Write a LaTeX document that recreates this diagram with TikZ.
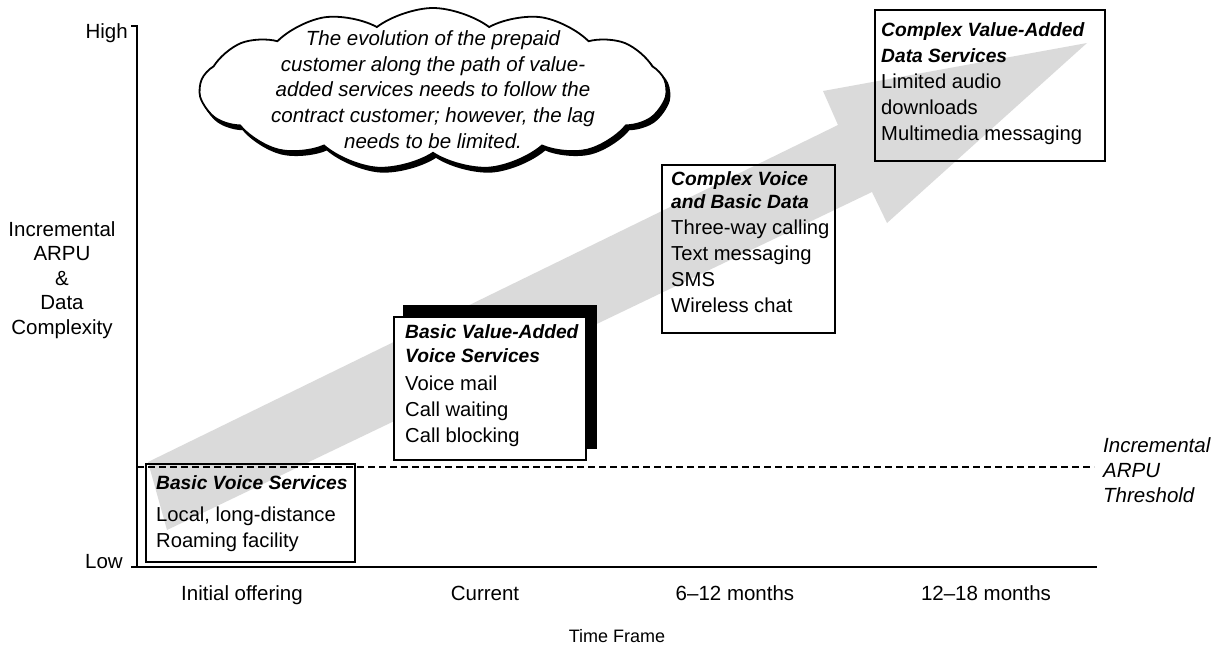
\documentclass[tikz,border=0pt]{standalone}
\usepackage{fontspec}
\setmainfont{Liberation Sans}
\usetikzlibrary{shapes.symbols}
\definecolor{arrowgray}{RGB}{218,218,218}
\begin{document}
\begin{tikzpicture}[x=1pt,y=-1pt,
  svcbox/.style={draw=black,line width=2pt,anchor=north west,inner sep=0pt},
  boxtext/.style={anchor=north west,inner sep=0pt,align=left,font=\fontsize{20.2}{26}\selectfont},
  axis/.style={line width=1.6pt},
  threshold/.style={line width=1.5pt,dash pattern=on 7pt off 4pt},
  axislabel/.style={inner sep=0pt,font=\fontsize{20.5}{24.5}\selectfont,text height=15pt,text depth=4.5pt},
  multilabel/.style={inner sep=0pt,align=center,font=\fontsize{20.5}{24.5}\selectfont},
  cloudshape/.style={cloud,cloud puffs=13,cloud puff arc=75,cloud ignores aspect,
    minimum width=466pt,minimum height=162pt,draw=black,line width=1.8pt,inner sep=0pt},
  cloudtext/.style={inner sep=0pt,align=center,font=\fontsize{20.5}{25.7}\selectfont\itshape}
]
\newcommand{\bt}[1]{{\fontsize{19.2}{26}\selectfont\bfseries\itshape #1}}
\useasboundingbox (0,0) rectangle (1217,647);

% big gray arrow
\fill[arrowgray] (148,462) -- (838,125) -- (823,91) -- (1087,43) -- (887,223) -- (872,192) -- (167,530) -- cycle;

% threshold
\coordinate (thl) at (137,467);
\coordinate (thr) at (1094,467);
\draw[threshold] (thl) -- (thr);

% axes
\coordinate (ytick) at (131,26);
\coordinate (ytop) at (137,26);
\coordinate (origin) at (137,567);
\coordinate (xleft) at (131,567);
\coordinate (xright) at (1097,567);
\draw[axis] (ytick) -- (ytop) -- (origin);
\draw[axis] (xleft) -- (xright);

% axis labels
\node[axislabel,anchor=east] (high) at (128,33) {High};
\node[axislabel,anchor=east] (low) at (123,563) {Low};
\node[multilabel] (ylabel) at (62,280) {Incremental\\ARPU\\\&\\Data\\Complexity};
\node[axislabel] (t1) at (242,595) {Initial offering};
\node[axislabel] (t2) at (485,595) {Current};
\node[axislabel] (t3) at (735,595) {6–12 months};
\node[axislabel] (t4) at (986,595) {12–18 months};
\node[inner sep=0pt,font=\fontsize{18}{22}\selectfont,text height=13.5pt,text depth=3.8pt] (xlabel) at (617,638) {Time Frame};
\node[multilabel,align=left,anchor=west,font=\fontsize{20.5}{25}\selectfont\itshape] (thlabel) at (1103,470) {Incremental\\ARPU\\Threshold};

% cloud
\node[cloudshape,fill=black] (cloudshadow) at (436,93) {};
\node[cloudshape,fill=white] (cloud) at (433,89) {};
\node[cloudtext] (cloudtxt) at (433,89.4) {The evolution of the prepaid\\customer along the path of value-\\added services needs to follow the\\contract customer; however, the lag\\needs to be limited.};

% box 1
\node[svcbox,minimum width=209pt,minimum height=98pt] (box1) at (145,463) {};
\node[boxtext] (box1txt) at (156,471.3) {\strut\bt{Basic Voice Services}\\[6pt]Local, long-distance\\Roaming facility};

% box 2 with shadow
\node[anchor=north west,inner sep=0pt,fill=black,minimum width=194pt,minimum height=144pt] (box2shadow) at (403,305) {};
\node[svcbox,fill=white,minimum width=192pt,minimum height=143pt] (box2) at (393,316) {};
\node[boxtext] (box2txt) at (405,320.3) {\strut\bt{Basic Value-Added}\\[-2pt]\bt{Voice Services}\\[2pt]Voice mail\\Call waiting\\Call blocking};

% box 3
\node[svcbox,minimum width=173pt,minimum height=168pt] (box3) at (661,164) {};
\node[boxtext] (box3txt) at (671,167.3) {\strut\bt{Complex Voice}\\[-3pt]\bt{and Basic Data}\\Three-way calling\\Text messaging\\SMS\\Wireless chat};

% box 4
\node[svcbox,minimum width=230pt,minimum height=151pt] (box4) at (874,9) {};
\node[boxtext] (box4txt) at (881,18.3) {\strut\bt{Complex Value-Added}\\\bt{Data Services}\\Limited audio\\downloads\\Multimedia messaging};
\end{tikzpicture}
\end{document}
